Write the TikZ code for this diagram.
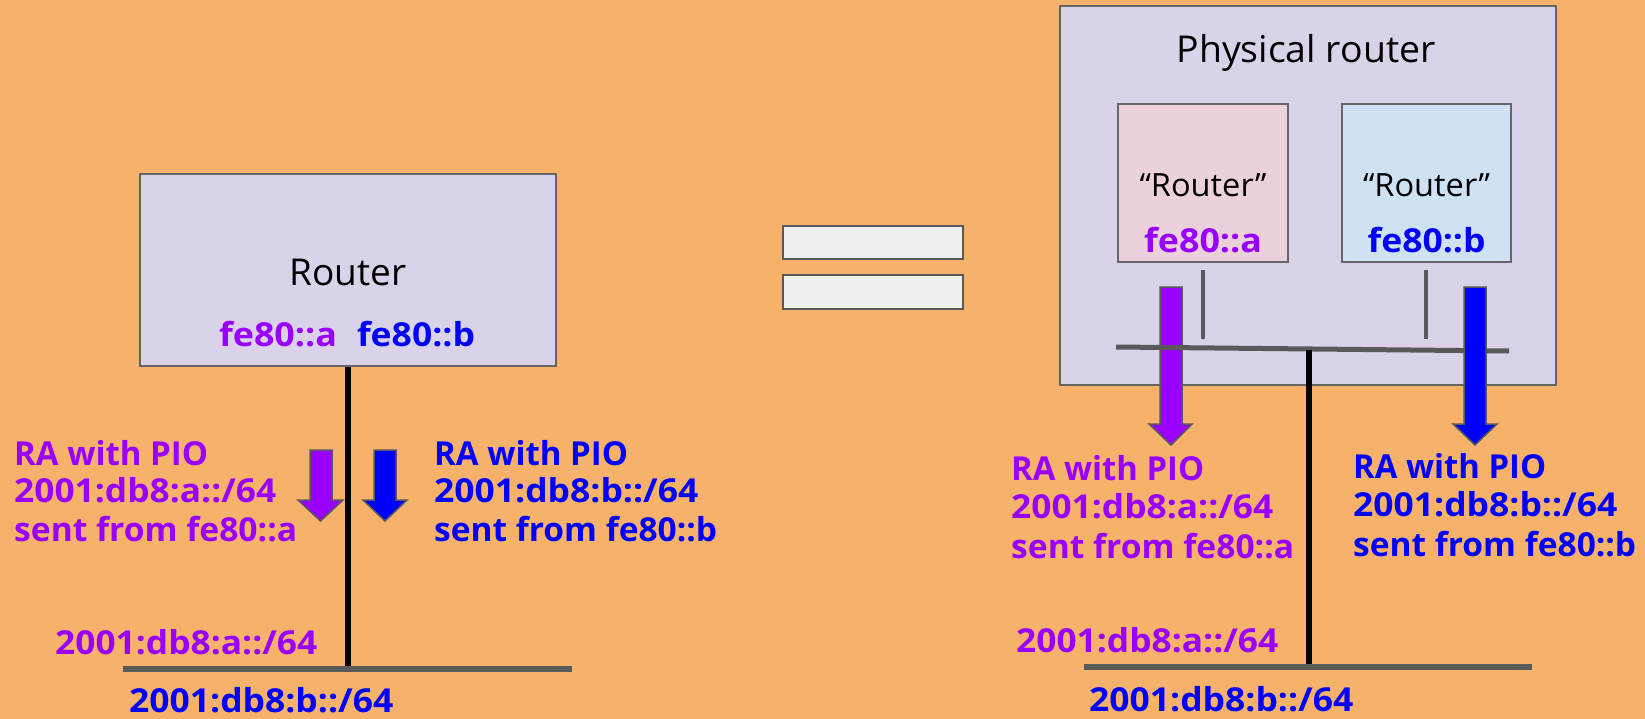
\documentclass[tikz,border=0pt]{standalone}
\usepackage{graphicx}
\usepackage{fontspec}
\setmainfont{Open Sans}
\definecolor{bg}{HTML}{F6B26B}
\definecolor{lav}{HTML}{D9D2E9}
\definecolor{pinkbox}{HTML}{EAD1DC}
\definecolor{bluebox}{HTML}{CFE2F3}
\definecolor{eqfill}{HTML}{EFEFEF}
\definecolor{dgray}{HTML}{595959}
\definecolor{bgray}{HTML}{666666}
\definecolor{purp}{HTML}{9900FF}
\definecolor{blu}{HTML}{0000FF}
\newcommand{\fitw}[2]{\resizebox{#1pt}{\height}{#2}}
\begin{document}
\begin{tikzpicture}[x=1pt,y=-1pt,
  box/.style={draw=bgray, line width=2, inner sep=0, rectangle},
  big/.style={font=\fontsize{37}{44}\selectfont, inner sep=0, anchor=base, text=black},
  mid/.style={font=\fontsize{32}{38}\selectfont, inner sep=0, anchor=base, text=black},
  pt/.style={font=\fontsize{33}{38}\selectfont\bfseries, inner sep=0, text=purp},
  bt/.style={font=\fontsize{33}{38}\selectfont\bfseries, inner sep=0, text=blu},
  lw/.style={anchor=base west},
  lc/.style={anchor=base},
  wire/.style={draw=black, line width=5.5},
  net/.style={draw=dgray, line width=6},
  thin/.style={draw=dgray, line width=3.5},
  parrow/.style={fill=purp, draw=dgray, line width=1.5, line join=miter},
  barrow/.style={fill=blu, draw=dgray, line width=1.5, line join=miter},
  eqbar/.style={fill=eqfill, draw=dgray, line width=2.5}
]
\useasboundingbox[fill=bg] (0,0) rectangle (1645,719);

% ---------- left ----------
\node[box, fill=lav, minimum width=416, minimum height=192] (router) at (348,270) {};
\node[big] (rname) at (348,285) {\fitw{117}{Router}};
\node[pt, lc] (lfa) at (278,346) {\fitw{118}{fe80::a}};
\node[bt, lc] (lfb) at (416,346) {\fitw{118}{fe80::b}};

\coordinate (lnet) at (348,669);
\coordinate (lnetL) at (123,669);
\coordinate (lnetR) at (572,669);
\draw[wire, line width=6] (router.south) -- (lnet);
\draw[net] (lnetL) -- (lnetR);

\filldraw[parrow] (310,450) -- (332,450) -- (332,500) -- (343,500) -- (320.5,521) -- (298,500) -- (310,500) -- cycle;
\filldraw[barrow] (374,450) -- (396,450) -- (396,500) -- (407,500) -- (385,521) -- (363,500) -- (374,500) -- cycle;

\node[pt, lw] (la1) at (14,465) {\fitw{194}{RA with PIO}};
\node[pt, lw] (la2) at (14,502) {\fitw{262}{2001:db8:a::/64}};
\node[pt, lw] (la3) at (14,541) {\fitw{283}{sent from fe80::a}};
\node[bt, lw] (lb1) at (434,465) {\fitw{194}{RA with PIO}};
\node[bt, lw] (lb2) at (434,502) {\fitw{264}{2001:db8:b::/64}};
\node[bt, lw] (lb3) at (434,541) {\fitw{283}{sent from fe80::b}};
\node[pt, lw] (lpa) at (55,654) {\fitw{262}{2001:db8:a::/64}};
\node[bt, lw] (lpb) at (129,712) {\fitw{264}{2001:db8:b::/64}};

% ---------- equals ----------
\draw[eqbar] (783,226) rectangle (963,259);
\draw[eqbar] (783,275) rectangle (963,309);

% ---------- right ----------
\node[box, fill=lav, minimum width=496, minimum height=379] (phys) at (1308,195.5) {};
\node[big] (pname) at (1306,63) {\fitw{259}{Physical router}};
\node[box, fill=pinkbox, minimum width=170, minimum height=158] (ra) at (1203,183) {};
\node[box, fill=bluebox, minimum width=169, minimum height=158] (rb) at (1426.5,183) {};
\node[mid] (ran) at (1203,197) {\fitw{127}{“Router”}};
\node[mid] (rbn) at (1426.5,197) {\fitw{127}{“Router”}};
\node[pt, lc] (rfa) at (1203,252) {\fitw{118}{fe80::a}};
\node[bt, lc] (rfb) at (1426.5,252) {\fitw{118}{fe80::b}};

\coordinate (ta) at (1203,270);
\coordinate (tb) at (1203,339);
\coordinate (tc) at (1426,270);
\coordinate (td) at (1426,339);
\draw[thin] (ta) -- (tb);
\draw[thin] (tc) -- (td);

\filldraw[parrow] (1160,287) -- (1182,287) -- (1182,424) -- (1192,424) -- (1171,445) -- (1149,424) -- (1160,424) -- cycle;

\coordinate (busL) at (1116,347);
\coordinate (busR) at (1509,351);
\draw[draw=dgray, line width=5] (busL) -- (busR);

\filldraw[barrow] (1464,287) -- (1486,287) -- (1486,424) -- (1497,424) -- (1475,445) -- (1453,424) -- (1464,424) -- cycle;

\coordinate (busM) at (1309,350);
\coordinate (rnet) at (1309,667);
\coordinate (rnetL) at (1084,667);
\coordinate (rnetR) at (1532,667);
\draw[wire] (busM) -- (rnet);
\draw[net] (rnetL) -- (rnetR);

\node[pt, lw] (ra1) at (1011,480) {\fitw{193}{RA with PIO}};
\node[pt, lw] (ra2) at (1011,518) {\fitw{262}{2001:db8:a::/64}};
\node[pt, lw] (ra3) at (1011,558) {\fitw{283}{sent from fe80::a}};
\node[bt, lw] (rb1) at (1353,478) {\fitw{193}{RA with PIO}};
\node[bt, lw] (rb2) at (1353,516) {\fitw{264}{2001:db8:b::/64}};
\node[bt, lw] (rb3) at (1353,556) {\fitw{283}{sent from fe80::b}};
\node[pt, lw] (rpa) at (1016,652) {\fitw{262}{2001:db8:a::/64}};
\node[bt, lw] (rpb) at (1089,711) {\fitw{264}{2001:db8:b::/64}};
\end{tikzpicture}
\end{document}
